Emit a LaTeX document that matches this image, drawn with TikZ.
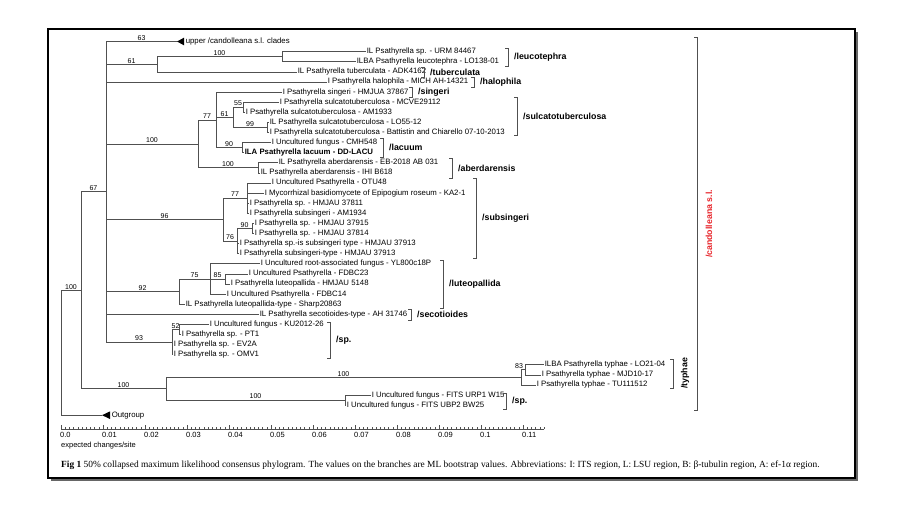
\documentclass[tikz,border=0pt]{standalone}
\usepackage{fontspec}
\setmainfont{Liberation Serif}
\setsansfont{Liberation Sans}
\newcommand{\leaffont}{\sffamily\fontsize{7.8}{8}\selectfont}
\newcommand{\bsfont}{\sffamily\fontsize{7}{7}\selectfont}
\newcommand{\scalefont}{\sffamily\fontsize{7.5}{8}\selectfont}
\newcommand{\cladefont}{\sffamily\bfseries\fontsize{8.8}{9}\selectfont}
\newcommand{\capfont}{\rmfamily\fontsize{9.4}{10}\selectfont}
\definecolor{linec}{HTML}{505050}
\definecolor{redlab}{HTML}{E8262C}
\newcommand{\cladebr}[5]{%
  \draw[brk] (#2-3,#3) -- (#2,#3) -- (#2,#4) -- (#2-3,#4);
  \node[clade] (#1) at (#2+6,{(#3+#4)/2}) {#5};}
\begin{document}
\begin{tikzpicture}[x=1pt,y=-1pt,
  br/.style={draw=linec,line width=0.6pt},
  brk/.style={draw=linec,line width=0.6pt},
  leaf/.style={anchor=west,inner sep=0.6pt,font=\leaffont,text height=5.6pt,text depth=1.6pt},
  bs/.style={pos=0.75,above,inner sep=0.8pt,font=\bsfont},
  clade/.style={anchor=west,inner sep=0pt,font=\cladefont}]
\useasboundingbox (0,0) rectangle (900,506);
\fill[white] (0,0) rectangle (900,506);
% frame with shadow
\fill[black!60] (51,32) rectangle (858,481);
\draw[line width=2.6pt,fill=white] (48,29) rectangle (855,478);

% internal nodes
\coordinate (root) at (61,352.7);
\coordinate (nA) at (81,290.2);
\coordinate (nB) at (106,191.7);
\coordinate (nT) at (166,388.7);
\coordinate (nTy) at (521,377.3);
\coordinate (n83) at (525,369.75);
\coordinate (nF) at (345,400.05);
\coordinate (n61a) at (157,64.2);
\coordinate (nLeu) at (282,56.65);
\coordinate (n100b) at (198,143.8);
\coordinate (n77) at (216,119.8);
\coordinate (n61b) at (233,117.25);
\coordinate (n55) at (243,107.15);
\coordinate (n99) at (267,127.35);
\coordinate (n90l) at (242,147.55);
\coordinate (nAb) at (258,167.75);
\coordinate (n96) at (223,219.5);
\coordinate (n77s) at (247,198.05);
\coordinate (n76) at (237,240.98);
\coordinate (n90s) at (252,228.35);
\coordinate (n92) at (179,291.5);
\coordinate (n75) at (210,278.85);
\coordinate (n85) at (225,278.85);
\coordinate (n93) at (172,341.98);
\coordinate (n52) at (179,329.35);
\coordinate (tUp) at (177,41.5);
\coordinate (tOut) at (102,415.2);

% collapsed clades
\fill[black] (tUp) -- ++(7,-3.8) -- ++(0,7.6) -- cycle;
\node[leaf] (Lup) at (185,41.5) {upper /candolleana s.l. clades};
\fill[black] (tOut) -- ++(8,-3.8) -- ++(0,7.6) -- cycle;
\node[leaf] (Lout) at (111,415.2) {Outgroup};

% leaves
\node[leaf] (L2) at (366,51.6) {IL Psathyrella sp. - URM 84467};
\node[leaf] (L3) at (356,61.7) {ILBA Psathyrella leucotephra - LO138-01};
\node[leaf] (L4) at (297,71.8) {IL Psathyrella tuberculata - ADK4162};
\node[leaf] (L5) at (327,81.9) {I Psathyrella halophila - MICH AH-14321};
\node[leaf] (L6) at (282,92.0) {I Psathyrella singeri - HMJUA 37867};
\node[leaf] (L7) at (279,102.1) {I Psathyrella sulcatotuberculosa - MCVE29112};
\node[leaf] (L8) at (245,112.2) {I Psathyrella sulcatotuberculosa - AM1933};
\node[leaf] (L9) at (269,122.3) {IL Psathyrella sulcatotuberculosa - LO55-12};
\node[leaf] (L10) at (269,132.4) {I Psathyrella sulcatotuberculosa - Battistin and Chiarello 07-10-2013};
\node[leaf] (L11) at (271,142.5) {I Uncultured fungus - CMH548};
\node[leaf] (L12) at (244,152.6) {\bfseries ILA Psathyrella lacuum - DD-LACU};
\node[leaf] (L13) at (278,162.7) {IL Psathyrella aberdarensis - EB-2018 AB 031};
\node[leaf] (L14) at (260,172.8) {IL Psathyrella aberdarensis - IHI B618};
\node[leaf] (L15) at (271,182.9) {I Uncultured Psathyrella - OTU48};
\node[leaf] (L16) at (264,193.0) {I Mycorrhizal basidiomycete of Epipogium roseum - KA2-1};
\node[leaf] (L17) at (249,203.1) {I Psathyrella sp. - HMJAU 37811};
\node[leaf] (L18) at (249,213.2) {I Psathyrella subsingeri - AM1934};
\node[leaf] (L19) at (254,223.3) {I Psathyrella sp. - HMJAU 37915};
\node[leaf] (L20) at (254,233.4) {I Psathyrella sp. - HMJAU 37814};
\node[leaf] (L21) at (239,243.5) {I Psathyrella sp.-is subsingeri type - HMJAU 37913};
\node[leaf] (L22) at (239,253.6) {I Psathyrella subsingeri-type - HMJAU 37913};
\node[leaf] (L23) at (260,263.7) {I Uncultured root-associated fungus - YL800c18P};
\node[leaf] (L24) at (248,273.8) {I Uncultured Psathyrella - FDBC23};
\node[leaf] (L25) at (230,283.9) {I Psathyrella luteopallida - HMJAU 5148};
\node[leaf] (L26) at (226,294.0) {I Uncultured Psathyrella - FDBC14};
\node[leaf] (L27) at (185,304.1) {IL Psathyrella luteopallida-type - Sharp20863};
\node[leaf] (L28) at (259,314.2) {IL Psathyrella secotioides-type - AH 31746};
\node[leaf] (L29) at (209,324.3) {I Uncultured fungus - KU2012-26};
\node[leaf] (L30) at (181,334.4) {I Psathyrella sp. - PT1};
\node[leaf] (L31) at (173,344.5) {I Psathyrella sp. - EV2A};
\node[leaf] (L32) at (173,354.6) {I Psathyrella sp. - OMV1};
\node[leaf] (L33) at (544,364.7) {ILBA Psathyrella typhae - LO21-04};
\node[leaf] (L34) at (541,374.8) {I Psathyrella typhae - MJD10-17};
\node[leaf] (L35) at (536,384.9) {I Psathyrella typhae - TU111512};
\node[leaf] (L36) at (371,395.0) {I Uncultured fungus - FITS URP1 W15};
\node[leaf] (L37) at (346,405.1) {I Uncultured fungus - FITS UBP2 BW25};

% branches
\draw[br] (root) |- (nA) node[bs]{100};
\draw[br] (root) |- (tOut);
\draw[br] (nA) |- (nB) node[bs]{67};
\draw[br] (nA) |- (nT) node[bs]{100};
\draw[br] (nB) |- (tUp) node[bs]{63};
\draw[br] (nB) |- (n61a) node[bs]{61};
\draw[br] (nB) |- (L5);
\draw[br] (nB) |- (n100b) node[bs]{100};
\draw[br] (nB) |- (n96) node[bs]{96};
\draw[br] (nB) |- (n92) node[bs]{92};
\draw[br] (nB) |- (L28);
\draw[br] (nB) |- (n93) node[bs]{93};
\draw[br] (n61a) |- (nLeu) node[bs]{100};
\draw[br] (n61a) |- (L4);
\draw[br] (nLeu) |- (L2);
\draw[br] (nLeu) |- (L3);
\draw[br] (n100b) |- (n77) node[bs]{77};
\draw[br] (n100b) |- (nAb) node[bs]{100};
\draw[br] (n77) |- (L6);
\draw[br] (n77) |- (n61b) node[bs]{61};
\draw[br] (n77) |- (n90l) node[bs]{90};
\draw[br] (n61b) |- (n55) node[bs]{55};
\draw[br] (n61b) |- (n99) node[bs]{99};
\draw[br] (n55) |- (L7);
\draw[br] (n55) |- (L8);
\draw[br] (n99) |- (L9);
\draw[br] (n99) |- (L10);
\draw[br] (n90l) |- (L11);
\draw[br] (n90l) |- (L12);
\draw[br] (nAb) |- (L13);
\draw[br] (nAb) |- (L14);
\draw[br] (n96) |- (n77s) node[bs]{77};
\draw[br] (n96) |- (n76) node[bs]{76};
\draw[br] (n77s) |- (L15);
\draw[br] (n77s) |- (L16);
\draw[br] (n77s) |- (L17);
\draw[br] (n77s) |- (L18);
\draw[br] (n76) |- (n90s) node[bs]{90};
\draw[br] (n76) |- (L21);
\draw[br] (n76) |- (L22);
\draw[br] (n90s) |- (L19);
\draw[br] (n90s) |- (L20);
\draw[br] (n92) |- (n75) node[bs]{75};
\draw[br] (n92) |- (L27);
\draw[br] (n75) |- (L23);
\draw[br] (n75) |- (n85) node[bs]{85};
\draw[br] (n75) |- (L26);
\draw[br] (n85) |- (L24);
\draw[br] (n85) |- (L25);
\draw[br] (n93) |- (n52) node[bs]{52};
\draw[br] (n93) |- (L31);
\draw[br] (n93) |- (L32);
\draw[br] (n52) |- (L29);
\draw[br] (n52) |- (L30);
\draw[br] (nT) |- (nTy) node[bs]{100};
\draw[br] (nT) |- (nF) node[bs]{100};
\draw[br] (nTy) |- (n83) node[bs,xshift=-4pt]{83};
\draw[br] (nTy) |- (L35);
\draw[br] (n83) |- (L33);
\draw[br] (n83) |- (L34);
\draw[br] (nF) |- (L36);
\draw[br] (nF) |- (L37);

% clade brackets
\cladebr{Cleu}{508}{48}{66}{/leucotephra}
\cladebr{Ctub}{424}{67}{77}{/tuberculata}
\cladebr{Chal}{474}{77}{87}{/halophila}
\cladebr{Csin}{412}{87}{97}{/singeri}
\cladebr{Csul}{517}{97}{135}{/sulcatotuberculosa}
\cladebr{Clac}{383}{138}{157}{/lacuum}
\cladebr{Cabe}{452}{158}{178}{/aberdarensis}
\cladebr{Csub}{476}{178}{258}{/subsingeri}
\cladebr{Clut}{443}{260}{308}{/luteopallida}
\cladebr{Csec}{411}{309}{320}{/secotioides}
\cladebr{Csp}{330}{322}{358}{/sp.}
\cladebr{Cfit}{506}{393}{409}{/sp.}
\draw[brk] (670,359) -- (673,359) -- (673,388) -- (670,388);
\node[font=\cladefont,rotate=90,inner sep=0pt] (Ctyp) at (685,373.5) {/typhae};
\draw[brk] (694,37) -- (697,37) -- (697,410) -- (694,410);
\node[font=\cladefont,text=redlab,rotate=90,inner sep=0pt] (Ccan) at (709,224) {/candolleana s.l.};

% scale bar
\draw[br] (61,429) -- (544.2,429);
\foreach \i in {0,...,115} {\draw[br,line width=0.5pt] (61+\i*4.2,429) -- (61+\i*4.2,427);}
\foreach \i/\t in {0/0.0,1/0.01,2/0.02,3/0.03,4/0.04,5/0.05,6/0.06,7/0.07,8/0.08,9/0.09,10/0.1,11/0.11} {
  \draw[br,line width=0.5pt] (61+\i*42,429) -- (61+\i*42,425);
  \node[anchor=north west,inner sep=0pt,font=\scalefont] (S\i) at (60+\i*42,432) {\t};}
\node[anchor=west,inner sep=0pt,font=\scalefont] (Sunit) at (61,446) {expected changes/site};

% caption
\node[anchor=west,inner sep=0pt,font=\capfont] (cap) at (61,465) {\textbf{Fig 1} 50\% collapsed maximum likelihood consensus phylogram. The values on the branches are ML bootstrap values. Abbreviations: I: ITS region, L: LSU region, B: β-tubulin region, A: ef-1α region.};
\end{tikzpicture}
\end{document}
